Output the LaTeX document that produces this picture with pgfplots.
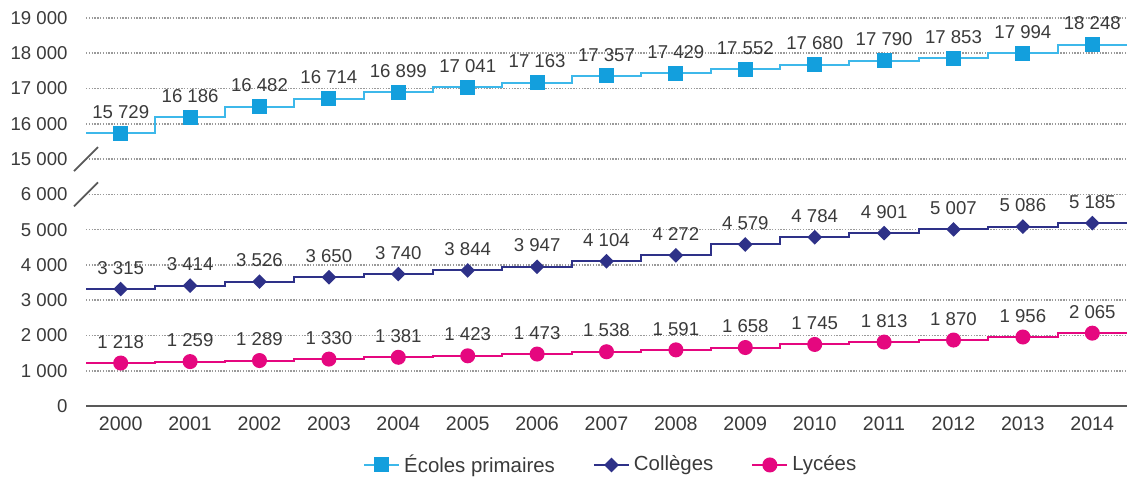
\documentclass[border=0pt]{standalone}
\usepackage{pgfplots}
\pgfplotsset{compat=1.18}
\usepackage{pgfplotstable}
\usepackage{fontspec}
\setmainfont{Liberation Sans}

\definecolor{ecol}{HTML}{139FDD}
\definecolor{ecolline}{HTML}{3DB8EA}
\definecolor{coll}{HTML}{2E3188}
\definecolor{lyc}{HTML}{E5077F}
\definecolor{txt}{HTML}{3A3A3A}
\definecolor{gridc}{HTML}{9A9A9A}

% effectifs (ecoles : axe coupe, y = val/1000 - 8)
\pgfplotstableread{
year val
2000 15729
2001 16186
2002 16482
2003 16714
2004 16899
2005 17041
2006 17163
2007 17357
2008 17429
2009 17552
2010 17680
2011 17790
2012 17853
2013 17994
2014 18248
}\ecoles
\pgfplotstableread{
year val
2000 3315
2001 3414
2002 3526
2003 3650
2004 3740
2005 3844
2006 3947
2007 4104
2008 4272
2009 4579
2010 4784
2011 4901
2012 5007
2013 5086
2014 5185
}\colleges
\pgfplotstableread{
year val
2000 1218
2001 1259
2002 1289
2003 1330
2004 1381
2005 1423
2006 1473
2007 1538
2008 1591
2009 1658
2010 1745
2011 1813
2012 1870
2013 1956
2014 2065
}\lycees

\begin{document}
\begin{tikzpicture}
\begin{axis}[
  scale only axis, width=520.5pt, height=194pt,
  anchor=south west, at={(43pt,35.5pt)},
  xmin=1999.5, xmax=2014.5, ymin=0, ymax=11,
  clip=false,
  axis line style={draw=none}, major tick length=0pt,
  xtick={2000,...,2014},
  ytick={0,...,11},
  yticklabels={0,1~000,2~000,3~000,4~000,5~000,6~000,15~000,16~000,17~000,18~000,19~000},
  /pgf/number format/1000 sep={},
  /pgf/number format/assume math mode=true,
  tick label style={font=\fontsize{9.3}{11}\selectfont, text=txt},
  xticklabel style={font=\fontsize{9.8}{11}\selectfont, yshift=-2pt},
  yticklabel style={xshift=-5.7pt},
  ymajorgrids,
  major grid style={gridc, line width=0.8pt, dash pattern=on 0.7pt off 0.7pt},
  nodes near coords style={font=\fontsize{9.3}{11}\selectfont, text=txt, yshift=3.5pt,
    /pgf/number format/1000 sep={~}},
  legend style={at={(0.505,-0.152)}, anchor=center, draw=none, fill=none,
    font=\fontsize{10.2}{12}\selectfont, text=txt,
    /tikz/every even column/.append style={column sep=17pt}},
  legend columns=3,
  legend image code/.code={\draw[mark repeat=2,mark phase=2,#1] plot coordinates {(0pt,0pt)(8.75pt,0pt)(17.5pt,0pt)};},
]
% prolongements des paliers jusqu'aux bords
\addplot[ecolline, line width=1pt, forget plot] coordinates {(1999.5,7.729) (2000,7.729)};
\addplot[ecolline, line width=1pt, forget plot] coordinates {(2014,10.248) (2014.5,10.248)};
\addplot[coll, line width=1pt, forget plot] coordinates {(1999.5,3.315) (2000,3.315)};
\addplot[coll, line width=1pt, forget plot] coordinates {(2014,5.185) (2014.5,5.185)};
\addplot[lyc, line width=1pt, forget plot] coordinates {(1999.5,1.218) (2000,1.218)};
\addplot[lyc, line width=1pt, forget plot] coordinates {(2014,2.065) (2014.5,2.065)};

\addplot[const plot mark mid, ecolline, line width=1pt, mark=square*, mark size=3.25pt,
  mark options={fill=ecol, draw=ecol}, point meta=explicit, nodes near coords]
  table[x=year, y expr=\thisrow{val}/1000-8, meta=val] {\ecoles};
\addlegendentry{Écoles primaires}
\addplot[const plot mark mid, coll, line width=1pt, mark=square*, mark size=2.1pt,
  mark options={fill=coll, draw=coll, rotate=45}, point meta=explicit, nodes near coords]
  table[x=year, y expr=\thisrow{val}/1000, meta=val] {\colleges};
\addlegendentry{Collèges}
\addplot[const plot mark mid, lyc, line width=1pt, mark=*, mark size=3.25pt,
  mark options={fill=lyc, draw=lyc}, point meta=explicit, nodes near coords]
  table[x=year, y expr=\thisrow{val}/1000, meta=val] {\lycees};
\addlegendentry{Lycées}

% ligne de base et coupures de l'axe
\draw[black!65, line width=1.2pt] (axis cs:1999.5,0) -- (axis cs:2014.5,0);
\draw[black!65, line width=0.9pt] ([xshift=-6pt,yshift=-6pt]axis cs:1999.5,7) -- ([xshift=6pt,yshift=6pt]axis cs:1999.5,7);
\draw[black!65, line width=0.9pt] ([xshift=-6pt,yshift=-6pt]axis cs:1999.5,6) -- ([xshift=6pt,yshift=6pt]axis cs:1999.5,6);
\end{axis}
\pgfresetboundingbox
\path[use as bounding box] (0,0) rectangle (566.5pt,238.5pt);
\end{tikzpicture}
\end{document}
